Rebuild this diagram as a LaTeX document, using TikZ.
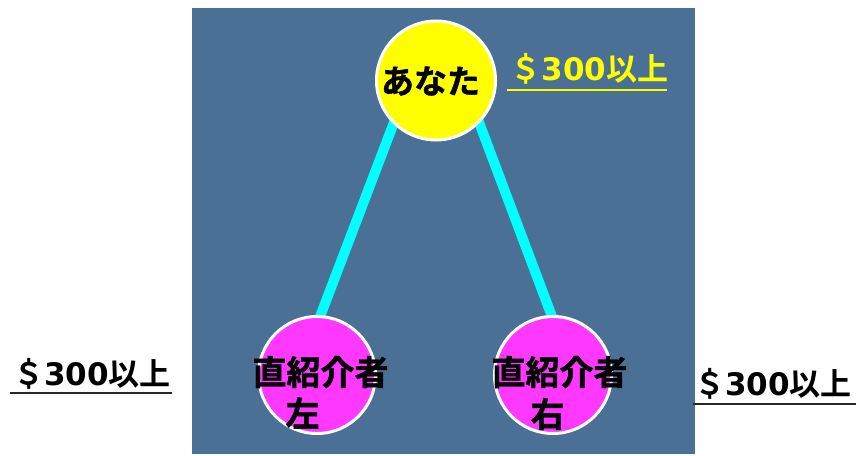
\documentclass[tikz,border=0pt]{standalone}
\usepackage{fontspec}
\newfontfamily\cjkb{Noto Sans CJK JP Bold}
\newfontfamily\cjkh{Noto Sans CJK JP Bold}[FakeBold=1.3]
\newfontfamily\digb{DejaVu Sans Bold}
\definecolor{panelblue}{RGB}{74,112,150}
\definecolor{nodeyellow}{RGB}{255,255,0}
\definecolor{nodemag}{RGB}{255,56,255}
\definecolor{linecyan}{RGB}{0,255,255}
\definecolor{ulinegray}{RGB}{40,40,40}
\newcommand\myamt{{\cjkb ＄}{\digb 300}{\cjkb 以上}}
\pgfdeclarelayer{bglayer}
\pgfdeclarelayer{linelayer}
\pgfsetlayers{bglayer,linelayer,main}
\tikzset{
  circbox/.style={circle, draw=white, line width=3pt, inner sep=0pt, outer sep=0pt},
  jptext/.style={font=\cjkh\fontsize{34}{40}\selectfont, text=black, inner sep=0pt},
  conn/.style={draw=linecyan, line width=10pt, shorten <=-8pt, shorten >=-8pt},
  amtlabel/.style={font=\fontsize{31}{36}\selectfont, inner sep=0pt, anchor=base},
  uline/.style={line width=2.2pt}
}
\begin{document}
\begin{tikzpicture}[x=1pt,y=-1pt]
\useasboundingbox (0,0) rectangle (856,455);
\begin{pgfonlayer}{bglayer}
\fill[white] (0,0) rectangle (856,455);
\fill[panelblue] (192,8) rectangle (695,454);
\end{pgfonlayer}

\node[circbox, fill=nodeyellow, minimum size=119pt] (you) at (436,80.5) {};
\node[circbox, fill=nodemag, minimum size=117pt] (left) at (317,375) {};
\node[circbox, fill=nodemag, minimum size=117pt] (right) at (553,375) {};

\begin{pgfonlayer}{linelayer}
\draw[conn] (you.-135) -- (left.87);
\draw[conn] (you.-44) -- (right.91);
\end{pgfonlayer}

\node[jptext, font=\cjkh\fontsize{33}{40}\selectfont] (youtxt) at (430.5,81) {あなた};
\node[jptext] (lefttxta) at (320.5,372) {直紹介者};
\node[jptext] (lefttxtb) at (302.5,413) {左};
\node[jptext] (righttxta) at (559.5,372) {直紹介者};
\node[jptext] (righttxtb) at (547.5,414) {右};

\node[amtlabel, text=nodeyellow] (toplbl) at (589.5,80) {\myamt};
\draw[uline, nodeyellow] (507,90) -- (667,90);
\node[amtlabel, text=black] (leftlbl) at (92,385) {\myamt};
\draw[uline, ulinegray] (10,393) -- (172,393);
\node[amtlabel, text=black] (rightlbl) at (773,395) {\myamt};
\draw[uline, ulinegray] (693,404) -- (856,404);
\end{tikzpicture}
\end{document}
